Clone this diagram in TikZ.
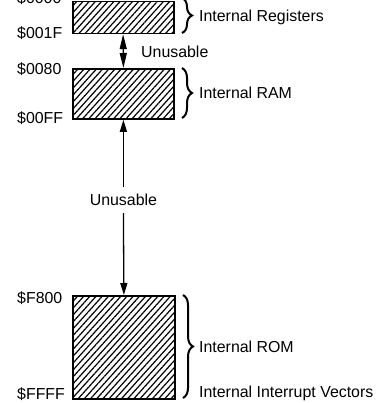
\documentclass[tikz,border=0pt]{standalone}
\usepackage{fontspec}
\setmainfont{Liberation Sans}
\usetikzlibrary{arrows.meta,patterns.meta,decorations.pathreplacing,positioning}
\begin{document}
\begin{tikzpicture}[x=1pt,y=-1pt,
  lbl/.style={font=\fontsize{15.9}{18}\selectfont, inner sep=0pt},
  membox/.style={draw, line width=1.8pt, inner sep=0pt, minimum width=101pt,
    pattern={Lines[angle=48,distance=4.6pt,line width=1.2pt]}},
  bracebar/.style={decorate, decoration={brace, amplitude=10pt, aspect=0.5}, line width=2pt},
  conn/.style={line width=1.3pt}
]
\fill[white] (0,0) rectangle (384,403);
\useasboundingbox (0,0) rectangle (384,403);

% memory blocks
\node[membox, minimum height=32pt, anchor=north west] (r1) at (72,1) {};
\node[membox, minimum height=50pt, anchor=north west] (r2) at (72,68) {};
\node[membox, minimum height=103pt, minimum width=102pt, anchor=north west] (r3) at (72,295) {};

% addresses
\node[lbl, anchor=west] (a0) at (17,-1.5) {\$0000};
\node[lbl, anchor=west] (a1) at (17,33) {\$001F};
\node[lbl, anchor=west] (a2) at (17,69) {\$0080};
\node[lbl, anchor=west] (a3) at (17,118) {\$00FF};
\node[lbl, anchor=west] (a4) at (17,298) {\$F800};
\node[lbl, anchor=west] (a5) at (17,394) {\$FFFF};

% unusable gaps
\node[lbl, anchor=west] (u1) at (141,52) {Unusable};
\node[lbl, minimum height=26pt] (u2) at (r2.south |- 0,200) {Unusable};

\draw[conn, {Triangle[length=15pt,width=7pt]}-{Triangle[length=15pt,width=7pt]}] (r1.south) -- (r2.north);
\draw[conn, -{Triangle[length=12pt,width=7pt]}] (u2.north) -- (r2.south);
\draw[conn, -{Triangle[length=12pt,width=7pt]}] (u2.south) -- (r3.north);

% braces
\coordinate (b1t) at (182,-2);
\coordinate (b1b) at (182,33);
\coordinate (b2t) at (182,68);
\coordinate (b2b) at (182,118);
\coordinate (b3t) at (183,295);
\coordinate (b3b) at (183,398);
\draw[bracebar] (b1t) -- (b1b);
\draw[bracebar] (b2t) -- (b2b);
\draw[bracebar] (b3t) -- (b3b);

% descriptions
\node[lbl, anchor=west] (d1) at (199,17) {Internal Registers};
\node[lbl, anchor=west] (d2) at (199,93) {Internal RAM};
\node[lbl, anchor=west] (d3) at (199,347) {Internal ROM};
\node[lbl, anchor=west] (d4) at (199,393) {Internal Interrupt Vectors};
\end{tikzpicture}
\end{document}
